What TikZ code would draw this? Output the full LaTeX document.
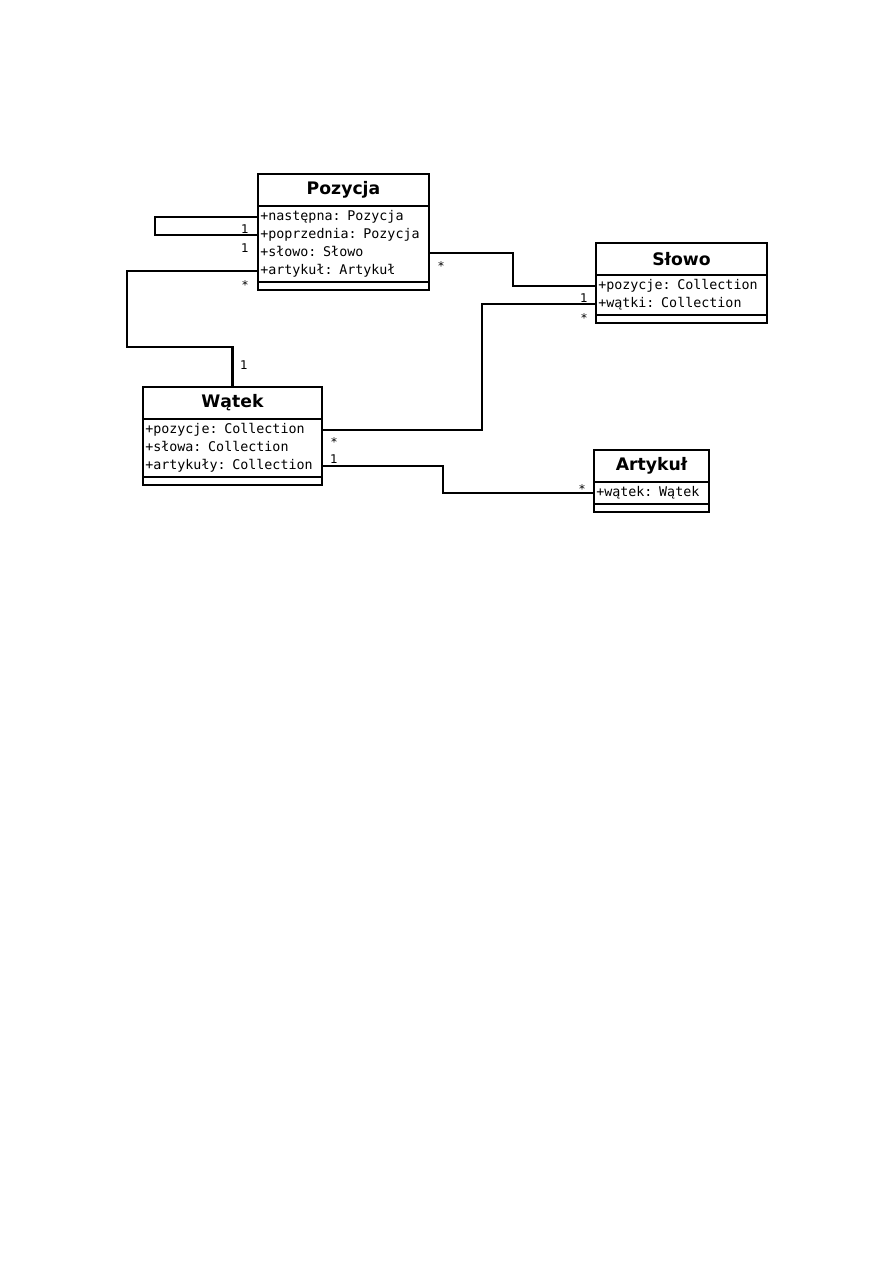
\documentclass[tikz,border=0pt]{standalone}
\usepackage{fontspec}
\setsansfont{DejaVu Sans}
\setmonofont{DejaVu Sans Mono}
\usetikzlibrary{positioning,fit}
\begin{document}
\begin{tikzpicture}[x=0.6667pt,y=-0.6667pt]
\tikzset{
    umlTitle/.style={draw,line width=1.5pt,anchor=north west,minimum height=21.33pt,inner sep=0pt,outer sep=0pt,font=\sffamily\bfseries\fontsize{11.5}{13}\selectfont},
    umlRow/.style={inner xsep=1.5pt,inner ysep=0pt,outer sep=0pt,minimum height=12pt,text height=6.3pt,text depth=1.8pt,align=left,font=\ttfamily\fontsize{8.9}{10}\selectfont},
    umlSection/.style={draw,line width=1.5pt,inner xsep=0pt,inner ysep=1.33pt,outer sep=0pt},
    umlOps/.style={draw,line width=1.5pt,minimum height=5.33pt,inner sep=0pt,outer sep=0pt},
    umlLink/.style={line width=1.5pt},
    umlMult/.style={font=\sffamily\fontsize{8}{9}\selectfont,inner sep=0pt}
}
\useasboundingbox (0,0) rectangle (893,1263);

% Pozycja
\node[umlTitle,minimum width=114pt] (pozycja) at (258,174) {Pozycja};
\node[umlRow,text width=111pt,below=1.33pt of pozycja.south west,anchor=north west] (pozNastepna) {+następna: Pozycja};
\node[umlRow,text width=111pt,below=0pt of pozNastepna] (pozPoprzednia) {+poprzednia: Pozycja};
\node[umlRow,text width=111pt,below=0pt of pozPoprzednia] (pozSlowo) {+słowo: Słowo};
\node[umlRow,text width=111pt,below=0pt of pozSlowo] (pozArtykul) {+artykuł: Artykuł};
\node[umlSection,fit=(pozNastepna)(pozArtykul)] (pozycjaAttr) {};
\node[umlOps,minimum width=114pt,below=0pt of pozycjaAttr] (pozycjaOps) {};

% Slowo
\node[umlTitle,minimum width=114pt] (slowo) at (596,243) {Słowo};
\node[umlRow,text width=111pt,below=1.33pt of slowo.south west,anchor=north west] (slowoPozycje) {+pozycje: Collection};
\node[umlRow,text width=111pt,below=0pt of slowoPozycje] (slowoWatki) {+wątki: Collection};
\node[umlSection,fit=(slowoPozycje)(slowoWatki)] (slowoAttr) {};
\node[umlOps,minimum width=114pt,below=0pt of slowoAttr] (slowoOps) {};

% Watek
\node[umlTitle,minimum width=119.33pt] (watek) at (143,387) {Wątek};
\node[umlRow,text width=116.33pt,below=1.33pt of watek.south west,anchor=north west] (watekPozycje) {+pozycje: Collection};
\node[umlRow,text width=116.33pt,below=0pt of watekPozycje] (watekSlowa) {+słowa: Collection};
\node[umlRow,text width=116.33pt,below=0pt of watekSlowa] (watekArtykuly) {+artykuły: Collection};
\node[umlSection,fit=(watekPozycje)(watekArtykuly)] (watekAttr) {};
\node[umlOps,minimum width=119.33pt,below=0pt of watekAttr] (watekOps) {};

% Artykul
\node[umlTitle,minimum width=76.67pt] (artykul) at (594,450) {Artykuł};
\node[umlRow,text width=73.67pt,below=1.33pt of artykul.south west,anchor=north west] (artykulWatek) {+wątek: Wątek};
\node[umlSection,fit=(artykulWatek)] (artykulAttr) {};
\node[umlOps,minimum width=76.67pt,below=0pt of artykulAttr] (artykulOps) {};

% associations
\coordinate (loopBend) at (155,226);
\draw[umlLink] (pozNastepna.west) -| (loopBend) |- (pozPoprzednia.west);
\coordinate (pwBend) at (127,347);
\draw[umlLink] (pozArtykul.west) -| (pwBend) -| (watek.north);
\coordinate (psBend) at (513,270);
\draw[umlLink] (pozSlowo.east) -| (psBend) |- (slowoPozycje.west);
\coordinate (wsBend) at (482,360);
\draw[umlLink] (watekPozycje.east) -| (wsBend) |- (slowoWatki.west);
\coordinate (waBend) at (443,480);
\draw[umlLink] (watekArtykuly.east) -| (waBend) |- (artykulWatek.west);

% multiplicities
\node[umlMult] (mLoopA) at (245,229) {1};
\node[umlMult] (mLoopB) at (245,248) {1};
\node[umlMult] (mPozWatek) at (245,285) {*};
\node[umlMult] (mWatekPoz) at (244,365) {1};
\node[umlMult] (mPozSlowo) at (441,266) {*};
\node[umlMult] (mSlowoWatek) at (584,298) {1};
\node[umlMult] (mSlowoWatki) at (584,318) {*};
\node[umlMult] (mWatekSlowo) at (334,442) {*};
\node[umlMult] (mWatekArt) at (334,459) {1};
\node[umlMult] (mArtWatek) at (582,489) {*};
\end{tikzpicture}
\end{document}
